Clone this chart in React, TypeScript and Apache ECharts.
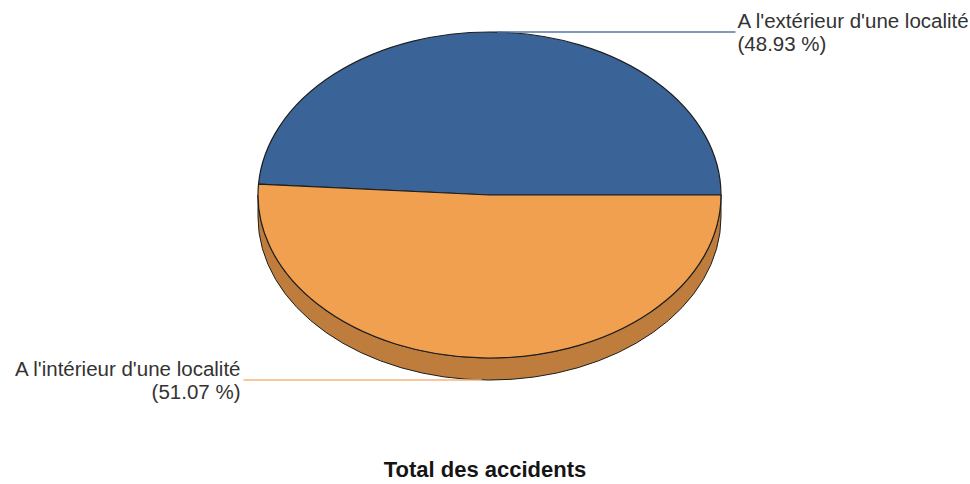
import React, { useEffect, useRef } from 'react';
import * as echarts from 'echarts';

// ---- data ----
const categories = ["A l'extérieur d'une localité", "A l'intérieur d'une localité"];
const shares = [48.93, 51.07];
const chartTitle = 'Total des accidents';

// ---- styles ----
const topColors = ['#3a6497', '#f0a04f'];
const sideColors = ['#2b4b72', '#be7d3d'];
const leaderColors = ['#56779f', '#f3b47c'];

// ---- layout ----
const CX = 489.5;
const CY = 195;
const RX = 231.5;
const RY = 163;
const DEPTH = 22;
const LEADER = 246;

function pt(a: number, dy = 0): [number, number] {
  return [CX + RX * Math.cos(a), CY - RY * Math.sin(a) + dy];
}

export default function App() {
  const ref = useRef<HTMLDivElement>(null);
  useEffect(() => {
    if (!ref.current) return;
    const chart = echarts.init(ref.current, null, { renderer: 'svg' });
    const total = shares.reduce((s, v) => s + v, 0);
    const option: any = {
      animation: false,
      backgroundColor: '#ffffff',
      title: {
        text: chartTitle,
        left: 'center',
        top: 458,
        padding: 0,
        textStyle: { fontFamily: 'Liberation Sans, Arial, sans-serif', fontSize: 22, fontWeight: 'bold', color: '#151515' },
      },
      series: [
        {
          type: 'custom',
          coordinateSystem: 'none',
          data: shares.map((v, i) => ({ value: v, name: categories[i] })),
          renderItem: (params: any, api: any) => {
            const i = params.dataIndex;
            const v = api.value(0) as number;
            let before = 0;
            for (let k = 0; k < i; k++) before += shares[k];
            const a1 = (before / total) * 2 * Math.PI;
            const a2 = ((before + v) / total) * 2 * Math.PI;
            const children: any[] = [];
            // side wall (visible lower half)
            const s1 = Math.max(a1, Math.PI);
            const s2 = Math.min(a2, 2 * Math.PI);
            if (s2 > s1) {
              const p1 = pt(s1);
              const p2 = pt(s2);
              const large = s2 - s1 > Math.PI ? 1 : 0;
              const d = `M${p1[0]} ${p1[1]} A${RX} ${RY} 0 ${large} 0 ${p2[0]} ${p2[1]} L${p2[0]} ${p2[1] + DEPTH} A${RX} ${RY} 0 ${large} 1 ${p1[0]} ${p1[1] + DEPTH} Z`;
              children.push({
                type: 'path',
                shape: { pathData: d },
                style: { fill: sideColors[i], stroke: '#1e1e1e', lineWidth: 1 },
                z2: 1,
              });
            }
            // top face
            const q1 = pt(a1);
            const q2 = pt(a2);
            const largeTop = a2 - a1 > Math.PI ? 1 : 0;
            const dTop = `M${CX} ${CY} L${q1[0]} ${q1[1]} A${RX} ${RY} 0 ${largeTop} 0 ${q2[0]} ${q2[1]} Z`;
            children.push({
              type: 'path',
              shape: { pathData: dTop },
              style: { fill: topColors[i], stroke: '#1e1e1e', lineWidth: 1.2, lineJoin: 'round' },
              z2: 2,
            });
            // leader + label
            const mid = (a1 + a2) / 2;
            const lower = Math.sin(mid) < 0;
            const anchor = pt(mid, lower ? DEPTH : 0);
            const right = Math.cos(mid) >= 0;
            const endX = right ? CX + LEADER : CX - LEADER;
            children.push({
              type: 'polyline',
              shape: { points: [anchor, [endX, anchor[1]]] },
              style: { stroke: leaderColors[i], lineWidth: 1.5, fill: null },
              z2: 3,
            });
            children.push({
              type: 'text',
              style: {
                text: `${categories[i]}\n(${v.toFixed(2)} %)`,
                x: right ? endX + 2 : endX - 3,
                y: anchor[1],
                align: right ? 'left' : 'right',
                verticalAlign: 'middle',
                fontFamily: 'Liberation Sans, Arial, sans-serif',
                fontSize: 20.5,
                lineHeight: 23,
                fill: '#333333',
              },
              z2: 4,
            });
            return { type: 'group', children };
          },
        },
      ],
    };
    chart.setOption(option);
    return () => chart.dispose();
  }, []);
  return (
    <div
      ref={ref}
      style={{ position: 'fixed', left: 0, top: 0, width: 970, height: 484, background: '#fff' }}
    />
  );
}
